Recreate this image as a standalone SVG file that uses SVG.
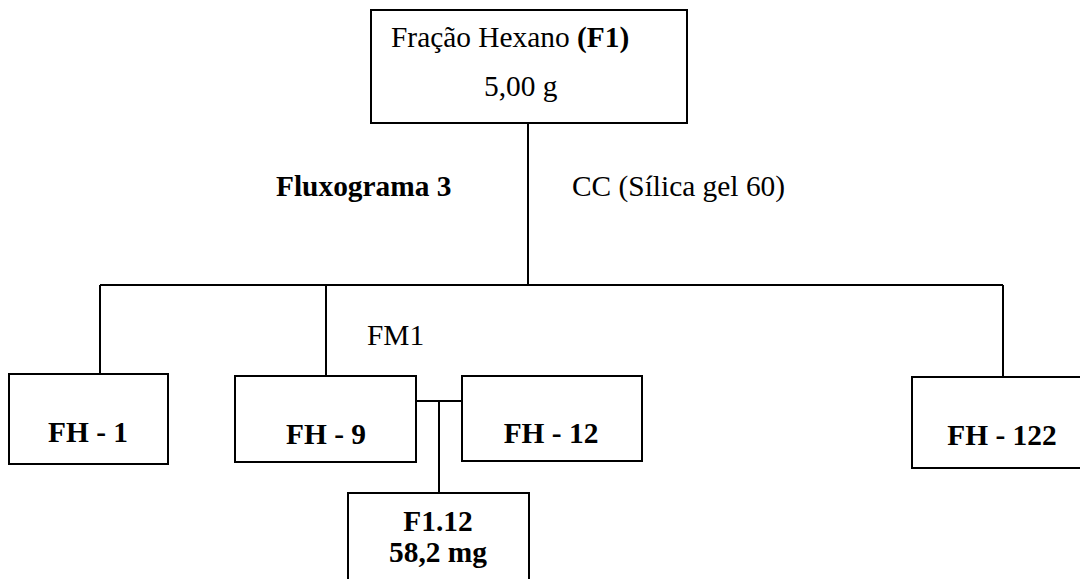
<svg xmlns="http://www.w3.org/2000/svg" width="1080" height="579" viewBox="0 0 1080 579">
<style>
.box{fill:#fff;stroke:#000;stroke-width:2}
.ln{fill:none;stroke:#000;stroke-width:2}
text{font-family:"Liberation Serif","Times New Roman",serif;font-size:29.4px;fill:#000}
.b{font-weight:bold}
.c{text-anchor:middle}
</style>
<rect width="1080" height="579" fill="#fff"/>
<g id="connectors">
<path class="ln" d="M528 123V285M100 285H1003M100 285V374M326 285V376M1003 285V377M416 401H462M439 401V493"/>
</g>
<g id="labels">
<text class="b" x="276" y="196">Fluxograma 3</text>
<text x="572" y="196">CC (Sílica gel 60)</text>
<text x="367" y="345">FM1</text>
</g>
<g id="node-f1">
<rect class="box" x="371" y="10" width="316" height="113"/>
<text x="391" y="47">Fração Hexano <tspan class="b">(F1)</tspan></text>
<text x="484" y="96">5,00 g</text>
</g>
<g id="node-fh1">
<rect class="box" x="9" y="374" width="159" height="90"/>
<text class="b c" x="88" y="442">FH - 1</text>
</g>
<g id="node-fh9">
<rect class="box" x="235" y="376" width="181" height="86"/>
<text class="b c" x="326" y="444">FH - 9</text>
</g>
<g id="node-fh12">
<rect class="box" x="462" y="376" width="180" height="85"/>
<text class="b c" x="551" y="443">FH - 12</text>
</g>
<g id="node-fh122">
<rect class="box" x="912" y="377" width="172" height="91"/>
<text class="b c" x="1002" y="445">FH - 122</text>
</g>
<g id="node-f112">
<rect class="box" x="348" y="493" width="181" height="100"/>
<text class="b c" x="438" y="531">F1.12</text>
<text class="b c" x="438" y="562">58,2 mg</text>
</g>
</svg>
